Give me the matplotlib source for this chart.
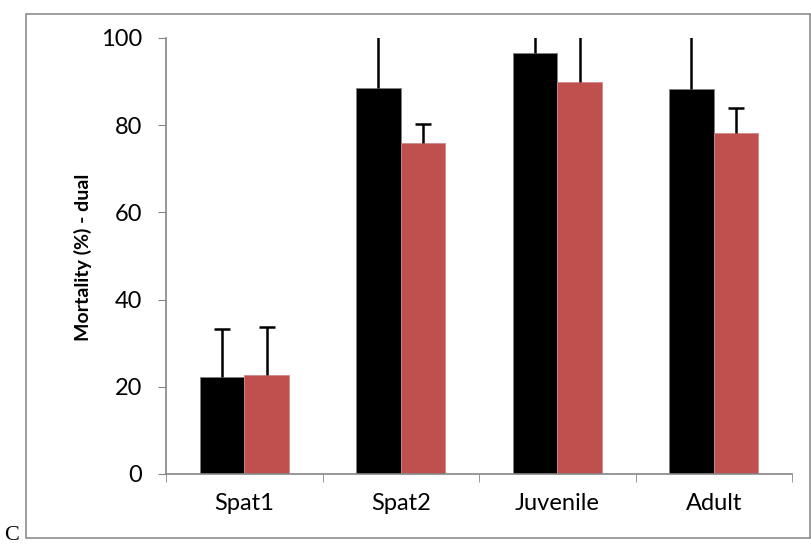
import numpy as np
import matplotlib.pyplot as plt
from matplotlib.patches import Rectangle

# ---------------- Data ----------------
categories = ["Spat1", "Spat2", "Juvenile", "Adult"]
black_vals = [22.3, 88.5, 96.6, 88.3]
red_vals = [22.8, 75.9, 89.9, 78.2]
black_err = [11.0, 15.0, 8.0, 14.0]
red_err = [11.0, 4.4, 12.0, 5.8]

AXIS_GRAY = '#868686'
RED = '#C0504D'

plt.rcParams['font.family'] = ['Lato', 'DejaVu Sans']

fig = plt.figure(figsize=(8.11, 5.47), dpi=100)
ax = fig.add_axes([166 / 811, 1 - 474 / 547, 626 / 811, 436 / 547])

x = np.arange(len(categories))
w = 0.285


def draw_bars(xpos, vals, errs, color, edge):
    ax.bar(xpos, vals, w, color=color, edgecolor=edge, linewidth=0.6, zorder=2)
    tops = np.array(vals) + np.array(errs)
    # upper-only error bars: stem + cap at the top
    ax.vlines(xpos, vals, tops, color='black', linewidth=1.8, zorder=3)
    ax.plot(xpos, tops, linestyle='none', marker='_', markersize=12,
            markeredgewidth=1.8, color='black', zorder=3)


draw_bars(x - w / 2, black_vals, black_err, 'black', '#7f7f7f')
draw_bars(x + w / 2, red_vals, red_err, RED, '#d08a88')

ax.set_xlim(-0.5, len(categories) - 0.5)
ax.set_ylim(0, 100)
ax.set_yticks(np.arange(0, 101, 20))

# category labels centred, tick marks between categories
ax.set_xticks(x)
ax.set_xticklabels(categories)
ax.set_xticks(np.arange(-0.5, len(categories)), minor=True)
ax.tick_params(axis='x', which='major', length=0, pad=14, labelsize=17)
ax.tick_params(axis='x', which='minor', length=6, color=AXIS_GRAY, direction='out')
ax.tick_params(axis='y', length=6, color=AXIS_GRAY, direction='out', pad=11, labelsize=17)

for side in ['top', 'right']:
    ax.spines[side].set_visible(False)
for side in ['left', 'bottom']:
    ax.spines[side].set_color(AXIS_GRAY)
    ax.spines[side].set_linewidth(1.2)

# y label placed at the plot-area centre, like the source
fig.text(83 / 811, 1 - 257 / 547, "Mortality (%) - dual", rotation=90,
         fontsize=14, fontweight='bold', ha='center', va='center')

# outer frame and panel letter
fig.patches.append(Rectangle((26 / 811, 1 - 538 / 547), 784 / 811, 524 / 547,
                             transform=fig.transFigure, fill=False,
                             edgecolor='#8c8c8c', linewidth=1.2))
fig.text(4 / 811, 2 / 547, "C", family='Liberation Serif', fontsize=16,
         ha='left', va='bottom')

fig.savefig("out.png", dpi=100)
